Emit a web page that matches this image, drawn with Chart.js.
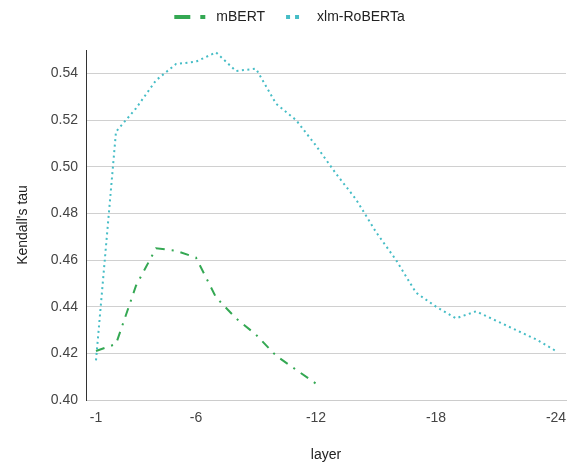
<!DOCTYPE html>
<html>
<head>
<meta charset="utf-8">
<script src="https://cdn.jsdelivr.net/npm/chart.js@4"></script>
<style>
    html, body { margin: 0; padding: 0; background: #fff; }
    #wrap { width: 577px; height: 468px; }
</style>
</head>
<body>
<div id="wrap"><canvas id="layerChart"></canvas></div>
<script>
// Layers, from last (-1) down to -24
const layers = ['-1', '-2', '-3', '-4', '-5', '-6', '-7', '-8', '-9', '-10', '-11', '-12',
                '-13', '-14', '-15', '-16', '-17', '-18', '-19', '-20', '-21', '-22', '-23', '-24'];
const shownLayers = ['-1', '-6', '-12', '-18', '-24'];

// Kendall's tau per layer (mBERT only has 12 layers)
const mbert = [0.421, 0.424, 0.449, 0.465, 0.464, 0.461, 0.444, 0.435, 0.428, 0.419, 0.413, 0.407];
const xlmRoberta = [0.417, 0.515, 0.525, 0.537, 0.544, 0.545, 0.549, 0.541, 0.542, 0.527, 0.520, 0.509,
                    0.497, 0.486, 0.472, 0.460, 0.446, 0.440, 0.435, 0.438, 0.434, 0.430, 0.426, 0.421];

const yTicks = [0.40, 0.42, 0.44, 0.46, 0.48, 0.50, 0.52, 0.54];

const font = { family: 'Arial, "Liberation Sans", sans-serif', size: 14 };

// Legend needs some extra room below it
const legendSpace = {
    id: 'legendSpace',
    beforeInit(chart) {
        const fit = chart.legend.fit;
        chart.legend.fit = function() {
            fit.call(this);
            this.height += 16;
        };
    }
};

new Chart(document.getElementById('layerChart'), {
    type: 'line',
    data: {
        labels: layers,
        datasets: [{
            label: 'mBERT',
            data: mbert,
            borderColor: '#34a853',
            backgroundColor: '#34a853',
            borderWidth: 2,
            borderDash: [9, 7, 2, 7],
            pointRadius: 0,
            tension: 0
        }, {
            label: 'xlm-RoBERTa',
            data: xlmRoberta,
            borderColor: '#46bdc6',
            backgroundColor: '#46bdc6',
            borderWidth: 2,
            borderDash: [2, 3.5],
            pointRadius: 0,
            tension: 0
        }]
    },
    options: {
        responsive: true,
        maintainAspectRatio: false,
        animation: false,
        layout: { padding: { left: 13, right: 11, top: 0, bottom: 0 } },
        plugins: {
            legend: {
                position: 'top',
                labels: {
                    usePointStyle: true,
                    pointStyleWidth: 35,
                    padding: 10,
                    color: '#222',
                    font: font,
                    generateLabels: chart => chart.data.datasets.map((ds, i) => ({
                        text: ds.label,
                        fillStyle: ds.borderColor,
                        strokeStyle: ds.borderColor,
                        fontColor: '#222',
                        lineWidth: 4,
                        lineDash: i === 0 ? [16, 10, 5, 100] : [4, 5, 4, 100],
                        lineDashOffset: i === 0 ? 0 : -11,
                        pointStyle: 'line',
                        hidden: false,
                        datasetIndex: i
                    }))
                }
            },
            tooltip: { enabled: false }
        },
        scales: {
            x: {
                offset: true,
                grid: { display: false, drawTicks: false },
                border: { color: '#ccc' },
                ticks: {
                    autoSkip: false,
                    maxRotation: 0,
                    padding: 10,
                    color: '#444',
                    font: font,
                    callback: function(value) {
                        const lab = this.getLabelForValue(value);
                        return shownLayers.includes(lab) ? lab : '';
                    }
                },
                title: {
                    display: true,
                    text: 'layer',
                    color: '#222',
                    font: font,
                    padding: { top: 0, bottom: 4 }
                },
                afterFit: scale => { scale.height = 68; }
            },
            y: {
                min: 0.40,
                max: 0.55,
                grid: { color: '#d0d0d0', drawTicks: false },
                border: { color: '#333', width: 1 },
                afterBuildTicks: axis => {
                    axis.ticks = yTicks.map(v => ({ value: v }));
                },
                ticks: {
                    padding: 8,
                    color: '#444',
                    font: font,
                    callback: value => value.toFixed(2)
                },
                title: {
                    display: true,
                    text: "Kendall's tau",
                    color: '#222',
                    font: font,
                    padding: { top: 2, bottom: 0 }
                },
                afterFit: scale => { scale.width = 73; }
            }
        }
    },
    plugins: [legendSpace]
});
</script>
</body>
</html>
